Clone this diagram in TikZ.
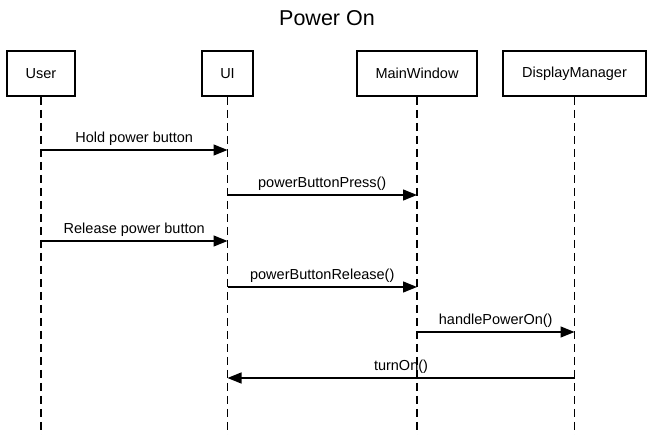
\documentclass[tikz,border=0pt]{standalone}
\usepackage{fontspec}
\setmainfont{Liberation Sans}
\usetikzlibrary{arrows.meta}
\begin{document}
\begin{tikzpicture}[x=1pt,y=-1pt,
  actor/.style={draw,line width=2pt,minimum height=45pt,inner sep=0pt,font=\fontsize{14.5}{17}\selectfont},
  life/.style={line width=1.4pt,dash pattern=on 8pt off 5pt},
  msg/.style={line width=1.3pt,-{Triangle[length=14pt,width=11pt]}},
  lbl/.style={font=\fontsize{14.5}{17}\selectfont,inner sep=0pt,above=4pt}]
\useasboundingbox (0,0) rectangle (654,435);
\node[font=\fontsize{21.5}{25}\selectfont] (title) at (327,18) {Power On};
\node[actor,minimum width=68pt] (user) at (41,73.5) {User};
\node[actor,minimum width=51pt] (ui) at (227.5,73.5) {UI};
\node[actor,minimum width=120pt] (mw) at (417,73.5) {MainWindow};
\node[actor,minimum width=143pt] (dm) at (574.5,73.5) {DisplayManager};
\coordinate (userE) at (41,435);
\coordinate (uiE) at (227.5,435);
\coordinate (mwE) at (417,435);
\coordinate (dmE) at (574.5,435);
\draw[life] (user.south) -- (userE);
\draw[life] (ui.south) -- (uiE);
\draw[life] (mw.south) -- (mwE);
\draw[life] (dm.south) -- (dmE);
% messages
\coordinate (a1) at (41,150); \coordinate (b1) at (227.5,150);
\draw[msg] (a1) -- node[lbl] {Hold power button} (b1);
\coordinate (a2) at (227.5,195); \coordinate (b2) at (417,195);
\draw[msg] (a2) -- node[lbl] {powerButtonPress()} (b2);
\coordinate (a3) at (41,241); \coordinate (b3) at (227.5,241);
\draw[msg] (a3) -- node[lbl] {Release power button} (b3);
\coordinate (a4) at (227.5,287); \coordinate (b4) at (417,287);
\draw[msg] (a4) -- node[lbl] {powerButtonRelease()} (b4);
\coordinate (a5) at (417,332); \coordinate (b5) at (574.5,332);
\draw[msg] (a5) -- node[lbl] {handlePowerOn()} (b5);
\coordinate (a6) at (574.5,378); \coordinate (b6) at (227.5,378);
\draw[msg] (a6) -- node[lbl] {turnOn()} (b6);
\end{tikzpicture}
\end{document}
